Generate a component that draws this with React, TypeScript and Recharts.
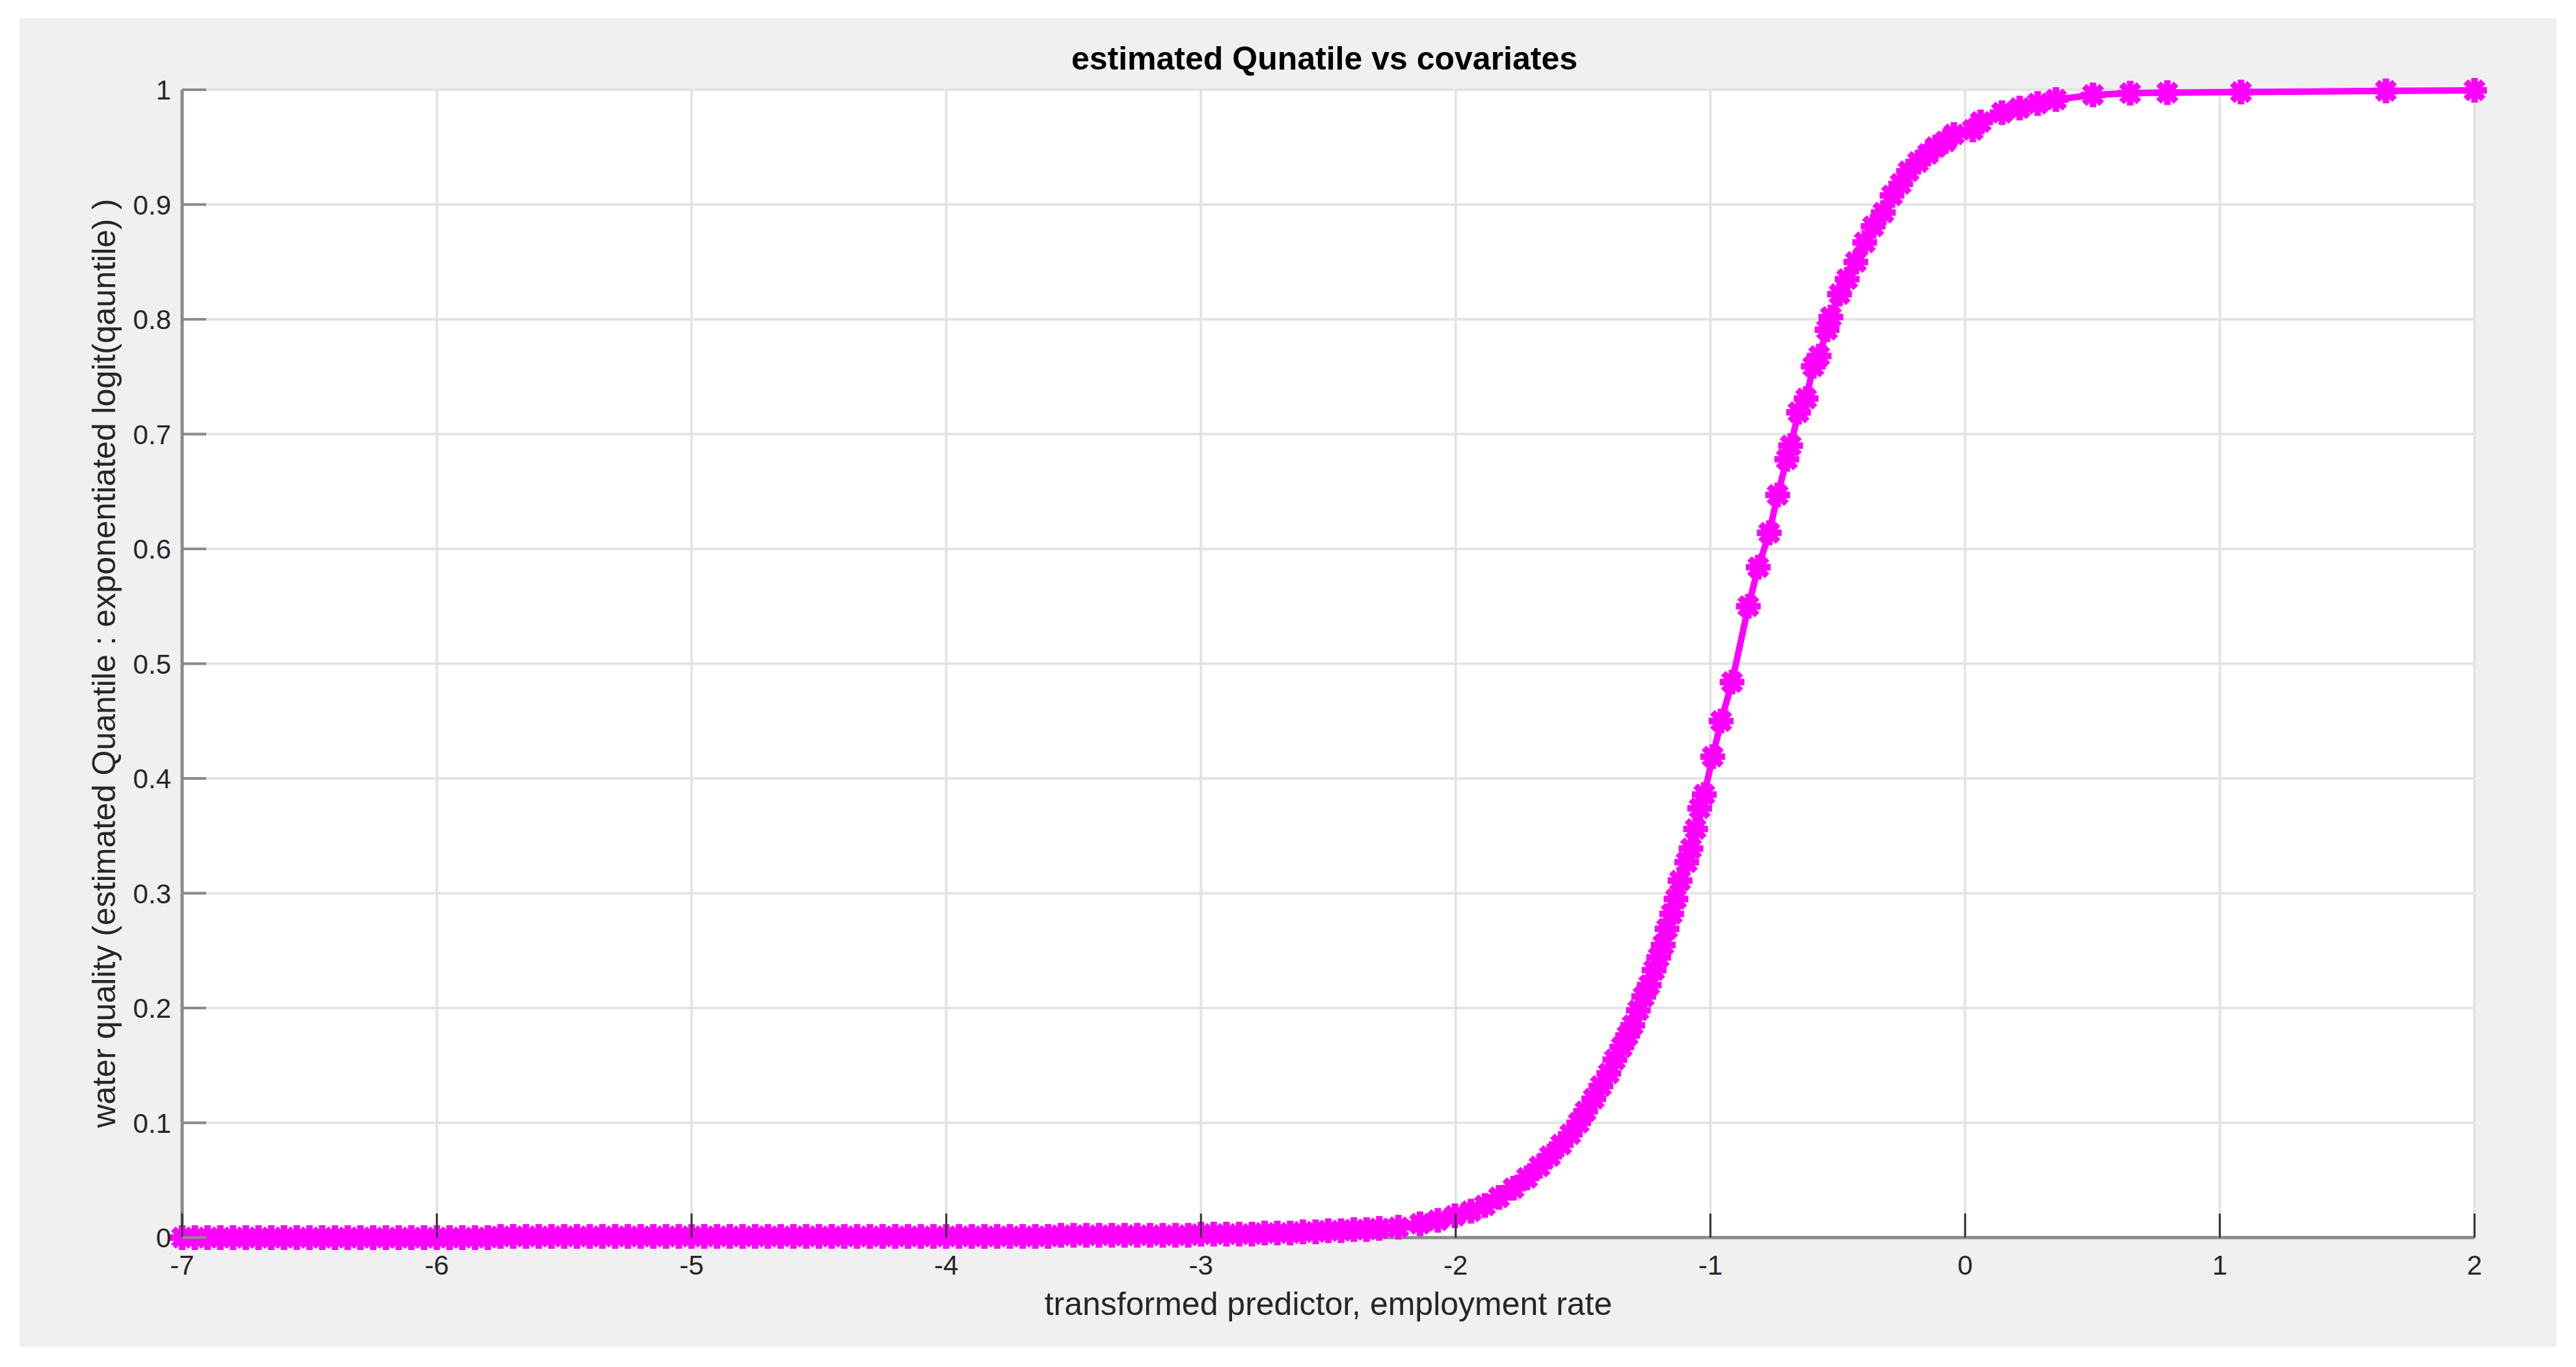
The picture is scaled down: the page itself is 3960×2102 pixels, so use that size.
import React from "react";
import { LineChart, Line, XAxis, YAxis, CartesianGrid } from "recharts";

const tailX = [
  -7.0, -6.95, -6.9, -6.85, -6.8, -6.75, -6.7, -6.65, -6.6, -6.55,
  -6.5, -6.45, -6.4, -6.35, -6.3, -6.25, -6.2, -6.15, -6.1, -6.05,
  -6.0, -5.95, -5.9, -5.85, -5.8, -5.75, -5.7, -5.65, -5.6, -5.55,
  -5.5, -5.45, -5.4, -5.35, -5.3, -5.25, -5.2, -5.15, -5.1, -5.05,
  -5.0, -4.95, -4.9, -4.85, -4.8, -4.75, -4.7, -4.65, -4.6, -4.55,
  -4.5, -4.45, -4.4, -4.35, -4.3, -4.25, -4.2, -4.15, -4.1, -4.05,
  -4.0, -3.95, -3.9, -3.85, -3.8, -3.75, -3.7, -3.65, -3.6, -3.55,
  -3.5, -3.45, -3.4, -3.35, -3.3, -3.25, -3.2, -3.15, -3.1, -3.05,
  -3.0, -2.95, -2.9, -2.85, -2.8, -2.75, -2.7, -2.65, -2.6, -2.55,
  -2.5, -2.45, -2.4, -2.35, -2.3,
];
const tailY = [
  0, 0, 0, 0, 0, 0, 0, 0, 0, 0,
  0, 0, 0, 0, 0, 0, 0, 0, 0, 0,
  0, 0, 0, 0, 0, 0.001, 0.001, 0.001, 0.001, 0.001,
  0.001, 0.001, 0.001, 0.001, 0.001, 0.001, 0.001, 0.001, 0.001, 0.001,
  0.001, 0.001, 0.001, 0.001, 0.001, 0.001, 0.001, 0.001, 0.001, 0.001,
  0.001, 0.001, 0.001, 0.001, 0.001, 0.001, 0.001, 0.001, 0.001, 0.001,
  0.001, 0.001, 0.001, 0.001, 0.001, 0.001, 0.001, 0.001, 0.001, 0.002,
  0.002, 0.002, 0.002, 0.002, 0.002, 0.002, 0.002, 0.002, 0.002, 0.002,
  0.003, 0.003, 0.003, 0.003, 0.003, 0.004, 0.004, 0.004, 0.005, 0.005,
  0.006, 0.006, 0.007, 0.007, 0.008,
];

// the rising part of the curve
const riseX = [
  -2.225, -2.14, -2.07, -2.003, -1.94, -1.885, -1.83, -1.773, -1.72, -1.671,
  -1.63, -1.586, -1.55, -1.517, -1.49, -1.458, -1.43, -1.399, -1.375, -1.348,
  -1.325, -1.305, -1.283, -1.262, -1.24, -1.221, -1.203, -1.185, -1.17, -1.152,
  -1.135, -1.119, -1.093, -1.076, -1.058, -1.042, -1.024, -0.991, -0.958, -0.915,
  -0.851, -0.812, -0.769, -0.736, -0.7, -0.685, -0.654, -0.624, -0.596, -0.573,
  -0.542, -0.527, -0.493, -0.463, -0.429, -0.394, -0.361, -0.321, -0.287, -0.253,
  -0.222, -0.185, -0.146, -0.116, -0.077, -0.044, 0.03, 0.061, 0.145, 0.214,
  0.285, 0.357,
];
const riseY = [
  0.009, 0.012, 0.015, 0.019, 0.023, 0.028, 0.035, 0.043, 0.052, 0.062,
  0.071, 0.081, 0.09, 0.1, 0.11, 0.121, 0.132, 0.143, 0.155, 0.166,
  0.176, 0.185, 0.198, 0.21, 0.22, 0.233, 0.244, 0.255, 0.269, 0.282,
  0.295, 0.311, 0.327, 0.339, 0.356, 0.374, 0.386, 0.419, 0.45, 0.484,
  0.55, 0.584, 0.614, 0.647, 0.678, 0.69, 0.719, 0.731, 0.759, 0.768,
  0.791, 0.802, 0.822, 0.835, 0.85, 0.867, 0.881, 0.893, 0.908, 0.918,
  0.929, 0.937, 0.944, 0.95, 0.955, 0.961, 0.965, 0.972, 0.98, 0.984,
  0.988, 0.9915,
];

// sparse upper plateau
const topX = [0.502, 0.648, 0.794, 1.083, 1.652, 2.0];
const topY = [0.9955, 0.997, 0.9975, 0.998, 0.999, 0.9995];

const xTicks = [-7, -6, -5, -4, -3, -2, -1, 0, 1, 2];
const yTicks = [0, 0.1, 0.2, 0.3, 0.4, 0.5, 0.6, 0.7, 0.8, 0.9, 1];

const data = [
  ...tailX.map((x, i) => ({ x, y: tailY[i] })),
  ...riseX.map((x, i) => ({ x, y: riseY[i] })),
  ...topX.map((x, i) => ({ x, y: topY[i] })),
];

const FONT = '"Liberation Sans", Arial, Helvetica, sans-serif';
const MAGENTA = "#ff00ff";
const BOX = "#8a8a8a";
const TICK_LEN = 37;

// MATLAB-ish '*' marker drawn thick, so it reads as a blob
const Star = (p: any) => {
  const { cx, cy, index } = p;
  if (cx == null || cy == null) return <g key={index} />;
  const r = 14;
  const d = r * 0.7071;
  return (
    <g key={index} stroke={MAGENTA} strokeWidth={10} strokeLinecap="square">
      <line x1={cx - r} y1={cy} x2={cx + r} y2={cy} />
      <line x1={cx} y1={cy - r} x2={cx} y2={cy + r} />
      <line x1={cx - d} y1={cy - d} x2={cx + d} y2={cy + d} />
      <line x1={cx - d} y1={cy + d} x2={cx + d} y2={cy - d} />
    </g>
  );
};

const BottomTick = (p: any) => (
  <g>
    <line x1={p.x} x2={p.x} y1={p.y} y2={p.y - TICK_LEN} stroke="#333" strokeWidth={3} />
    <text x={p.x} y={p.y + 57} textAnchor="middle" fontSize={42} fontFamily={FONT} fill="#262626">
      {String(p.payload.value)}
    </text>
  </g>
);

const TopTick = (p: any) => (
  <line x1={p.x} x2={p.x} y1={p.y} y2={p.y + TICK_LEN} stroke="#333" strokeWidth={3} />
);

const LeftTick = (p: any) => (
  <g>
    <line x1={p.x} x2={p.x + TICK_LEN} y1={p.y} y2={p.y} stroke={BOX} strokeWidth={4} />
    <text x={p.x - 17} y={p.y + 15} textAnchor="end" fontSize={42} fontFamily={FONT} fill="#262626">
      {String(p.payload.value)}
    </text>
  </g>
);

const RightTick = (p: any) => (
  <line x1={p.x} x2={p.x - TICK_LEN} y1={p.y} y2={p.y} stroke={BOX} strokeWidth={4} />
);

export default function App() {
  return (
    <div style={{ position: "absolute", left: 0, top: 0, width: 3960, height: 2102, background: "#fff" }}>
      <div style={{ position: "absolute", left: 30, top: 28, width: 3900, height: 2043, background: "#f0f0f0" }} />
      <div style={{ position: "absolute", left: 0, top: 0 }}>
        <LineChart width={3960} height={2102} data={data} margin={{ top: 138, right: 156, bottom: 99, left: 30 }}>
          <CartesianGrid stroke="#e4e4e4" strokeWidth={4} fill="#ffffff" />
          <XAxis
            dataKey="x"
            type="number"
            domain={[-7, 2]}
            ticks={xTicks}
            interval={0}
            height={100}
            tickSize={0}
            tickMargin={0}
            tickLine={false}
            axisLine={{ stroke: BOX, strokeWidth: 5 }}
            tick={<BottomTick />}
          />
          <XAxis
            xAxisId="top"
            orientation="top"
            dataKey="x"
            type="number"
            domain={[-7, 2]}
            ticks={xTicks}
            interval={0}
            height={0}
            tickSize={0}
            tickMargin={0}
            tickLine={false}
            axisLine={{ stroke: BOX, strokeWidth: 5 }}
            tick={<TopTick />}
          />
          <YAxis
            type="number"
            domain={[0, 1]}
            ticks={yTicks}
            interval={0}
            width={250}
            tickSize={0}
            tickMargin={0}
            tickLine={false}
            axisLine={{ stroke: BOX, strokeWidth: 5 }}
            tick={<LeftTick />}
          />
          <YAxis
            yAxisId="right"
            orientation="right"
            type="number"
            domain={[0, 1]}
            ticks={yTicks}
            interval={0}
            width={0}
            tickSize={0}
            tickMargin={0}
            tickLine={false}
            axisLine={{ stroke: BOX, strokeWidth: 5 }}
            tick={<RightTick />}
          />
          <Line
            type="linear"
            dataKey="y"
            stroke={MAGENTA}
            strokeWidth={10}
            dot={Star}
            activeDot={false}
            isAnimationActive={false}
          />
        </LineChart>
      </div>
      <svg
        width={3960}
        height={2102}
        style={{ position: "absolute", left: 0, top: 0, pointerEvents: "none" }}
      >
        <text x={2036} y={107} textAnchor="middle" fontSize={50} fontWeight="bold" fontFamily={FONT} fill="#000">
          estimated Qunatile vs covariates
        </text>
        <text x={2042} y={2022} textAnchor="middle" fontSize={50} fontFamily={FONT} fill="#262626">
          transformed predictor, employment rate
        </text>
        <text
          transform="translate(177,1020) rotate(-90)"
          textAnchor="middle"
          fontSize={50}
          fontFamily={FONT}
          fill="#262626"
        >
          water quality (estimated Quantile : exponentiated logit(qauntile) )
        </text>
      </svg>
    </div>
  );
}
